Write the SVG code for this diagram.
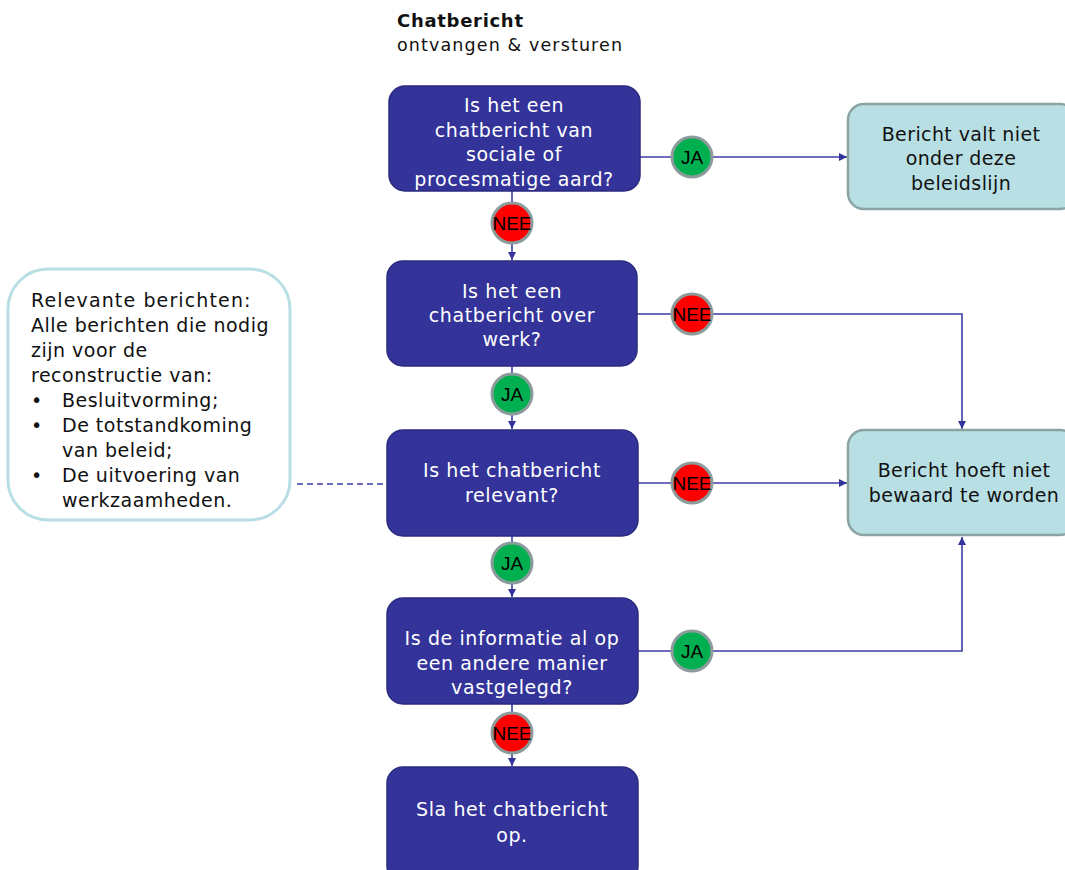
<svg xmlns="http://www.w3.org/2000/svg" width="1065" height="870" viewBox="0 0 1065 870">
  <style>
    .q rect { fill: #333399; stroke: #2b2b80; stroke-width: 1.5; }
    .q text { fill: #ffffff; font-family: "DejaVu Sans", Verdana, sans-serif; font-size: 19px; letter-spacing: 0.6px; text-anchor: middle; }
    .end rect { fill: #b8dfe3; stroke: #8aa3a3; stroke-width: 2.5; }
    .end text { fill: #111111; font-family: "DejaVu Sans", Verdana, sans-serif; font-size: 19px; letter-spacing: 0.4px; text-anchor: middle; }
    .note rect { fill: #ffffff; stroke: #b8dfe3; stroke-width: 3; }
    .note text { fill: #111111; font-family: "DejaVu Sans", Verdana, sans-serif; font-size: 19px; letter-spacing: 0.5px; }
    .yes circle { fill: #00b050; stroke: #8c9c9c; stroke-width: 3; }
    .no circle { fill: #ff0000; stroke: #8c9c9c; stroke-width: 3; }
    .yes text, .no text { fill: #000000; font-family: "Liberation Sans", Arial, sans-serif; font-size: 19px; text-anchor: middle; }
    .edge { fill: none; stroke: #3d3da6; stroke-width: 1.6; }
    .dash { fill: none; stroke: #3d3da6; stroke-width: 1.6; stroke-dasharray: 6 4; }
    .title { font-family: "DejaVu Sans", Verdana, sans-serif; fill: #111111; }
  </style>
  <defs>
    <marker id="arrow" viewBox="0 0 10 10" refX="10" refY="5" markerWidth="8" markerHeight="8" markerUnits="userSpaceOnUse" orient="auto">
      <path d="M0,0 L10,5 L0,10 z" fill="#333399"/>
    </marker>
  </defs>

  <rect width="1065" height="870" fill="#ffffff"/>

  <!-- heading -->
  <g id="heading" class="title">
    <text x="397" y="27" font-size="18" font-weight="bold" textLength="126" lengthAdjust="spacing">Chatbericht</text>
    <text x="397" y="51" font-size="17.5" textLength="225" lengthAdjust="spacing">ontvangen &amp; versturen</text>
  </g>

  <!-- connectors -->
  <g id="connectors">
    <path class="edge" d="M640,157 H847" marker-end="url(#arrow)"/>
    <path class="edge" d="M512,191 V260" marker-end="url(#arrow)"/>
    <path class="edge" d="M637,314 H962 V429" marker-end="url(#arrow)"/>
    <path class="edge" d="M512,366 V429" marker-end="url(#arrow)"/>
    <path class="edge" d="M638,483 H847" marker-end="url(#arrow)"/>
    <path class="dash" d="M297,484 H387"/>
    <path class="edge" d="M512,536 V597" marker-end="url(#arrow)"/>
    <path class="edge" d="M638,651 H962 V537" marker-end="url(#arrow)"/>
    <path class="edge" d="M512,704 V766" marker-end="url(#arrow)"/>
  </g>

  <!-- decision nodes -->
  <g id="q1" class="q">
    <rect x="389" y="86" width="251" height="105" rx="16"/>
    <text x="514" y="112">Is het een</text>
    <text x="514" y="137">chatbericht van</text>
    <text x="514" y="161">sociale of</text>
    <text x="514" y="186">procesmatige aard?</text>
  </g>
  <g id="q2" class="q">
    <rect x="387" y="261" width="250" height="105" rx="16"/>
    <text x="512" y="298">Is het een</text>
    <text x="512" y="322">chatbericht over</text>
    <text x="512" y="346">werk?</text>
  </g>
  <g id="q3" class="q">
    <rect x="387" y="430" width="251" height="106" rx="16"/>
    <text x="512" y="477">Is het chatbericht</text>
    <text x="512" y="502">relevant?</text>
  </g>
  <g id="q4" class="q">
    <rect x="387" y="598" width="251" height="106" rx="16"/>
    <text x="512" y="645">Is de informatie al op</text>
    <text x="512" y="670">een andere manier</text>
    <text x="512" y="694">vastgelegd?</text>
  </g>
  <g id="store" class="q">
    <rect x="387" y="767" width="251" height="115" rx="16"/>
    <text x="512" y="816">Sla het chatbericht</text>
    <text x="512" y="842">op.</text>
  </g>

  <!-- outcome nodes -->
  <g id="out-scope" class="end">
    <rect x="848" y="104" width="228" height="105" rx="16"/>
    <text x="961" y="141">Bericht valt niet</text>
    <text x="961" y="165">onder deze</text>
    <text x="961" y="190">beleidslijn</text>
  </g>
  <g id="no-keep" class="end">
    <rect x="848" y="430" width="228" height="105" rx="16"/>
    <text x="964" y="477">Bericht hoeft niet</text>
    <text x="964" y="502">bewaard te worden</text>
  </g>

  <!-- explanatory note -->
  <g id="note" class="note">
    <rect x="8" y="269" width="282" height="251" rx="40"/>
    <text x="31" y="307" textLength="220" lengthAdjust="spacing">Relevante berichten:</text>
    <text x="31" y="332">Alle berichten die nodig</text>
    <text x="31" y="357">zijn voor de</text>
    <text x="31" y="382">reconstructie van:</text>
    <text x="31" y="407">•</text>
    <text x="62" y="407">Besluitvorming;</text>
    <text x="31" y="432">•</text>
    <text x="62" y="432">De totstandkoming</text>
    <text x="62" y="457">van beleid;</text>
    <text x="31" y="482">•</text>
    <text x="62" y="482">De uitvoering van</text>
    <text x="62" y="507">werkzaamheden.</text>
  </g>

  <!-- answer badges -->
  <g id="a1-ja" class="yes"><circle cx="692" cy="157" r="20"/><text x="692" y="164">JA</text></g>
  <g id="a1-nee" class="no"><circle cx="512" cy="223" r="20"/><text x="512" y="230">NEE</text></g>
  <g id="a2-nee" class="no"><circle cx="692" cy="314" r="20"/><text x="692" y="321">NEE</text></g>
  <g id="a2-ja" class="yes"><circle cx="512" cy="394" r="20"/><text x="512" y="401">JA</text></g>
  <g id="a3-nee" class="no"><circle cx="692" cy="483" r="20"/><text x="692" y="490">NEE</text></g>
  <g id="a3-ja" class="yes"><circle cx="512" cy="563" r="20"/><text x="512" y="570">JA</text></g>
  <g id="a4-ja" class="yes"><circle cx="692" cy="651" r="20"/><text x="692" y="658">JA</text></g>
  <g id="a4-nee" class="no"><circle cx="512" cy="733" r="20"/><text x="512" y="740">NEE</text></g>
</svg>
